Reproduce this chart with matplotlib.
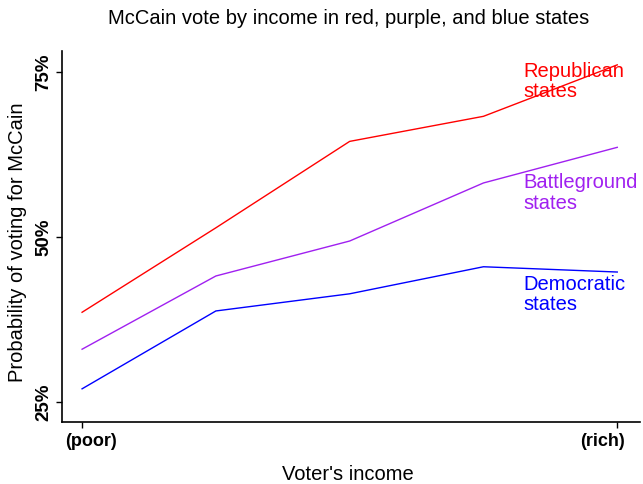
import matplotlib
matplotlib.use("Agg")
import matplotlib.pyplot as plt
import matplotlib.transforms as mtransforms

income = [1, 2, 3, 4, 5]
republican = [38.6, 51.4, 64.5, 68.3, 76.1]
battleground = [33.0, 44.1, 49.4, 58.2, 63.6]
democratic = [27.0, 38.8, 41.4, 45.5, 44.7]
x_ticks = [1, 5]
x_ticklabels = ["(poor)", "(rich)"]
y_ticks = [25, 50, 75]
y_ticklabels = ["25%", "50%", "75%"]

plt.rcParams['font.family'] = ['Liberation Sans', 'DejaVu Sans']

fig = plt.figure(figsize=(6.43, 4.84), dpi=100)
ax = fig.add_axes([62/643, 1-422/484, (640-62)/643, (422-51)/484])

ax.plot(income, republican, color='#FF0000', lw=1)
ax.plot(income, battleground, color='#A020F0', lw=1)
ax.plot(income, democratic, color='#0000FF', lw=1)

lab_kw = dict(fontsize=14.5, va='center', ha='left', linespacing=1.1)
ax.text(4.297, 73.6, "Republican\nstates", color='#FF0000', **lab_kw)
ax.text(4.297, 56.7, "Battleground\nstates", color='#A020F0', **lab_kw)
ax.text(4.297, 41.3, "Democratic\nstates", color='#0000FF', **lab_kw)

ax.set_xlim(0.85, 5.17)
ax.set_ylim(21.97, 78.2)
ax.set_xticks(x_ticks)
ax.set_xticklabels(x_ticklabels, fontweight='bold', fontsize=13)
ax.set_yticks(y_ticks)
ax.set_yticklabels(y_ticklabels, rotation=90, va='center', fontweight='bold', fontsize=13.5)
ax.tick_params(axis='both', length=4, width=1, direction='out', pad=4)
ax.tick_params(axis='y', pad=3)
ax.spines['top'].set_visible(False)
ax.spines['right'].set_visible(False)
ax.spines['left'].set_linewidth(1.2)
ax.spines['bottom'].set_linewidth(1.2)

# shift x tick labels slightly inward as in the reference
shifts = [9, -15]
for lbl, dx in zip(ax.get_xticklabels(), shifts):
    lbl.set_transform(lbl.get_transform() + mtransforms.ScaledTranslation(dx/100, 0, fig.dpi_scale_trans))

fig.text(348/643, 1-474/484, "Voter's income", ha='center', va='center', fontsize=14.5)
fig.text(18/643, 1-242/484, "Probability of voting for McCain", ha='center', va='center', rotation=90, fontsize=14.5)
fig.text(349/643, 1-18/484, "McCain vote by income in red, purple, and blue states", ha='center', va='center', fontsize=14.5)

fig.savefig("out.png", dpi=100)
